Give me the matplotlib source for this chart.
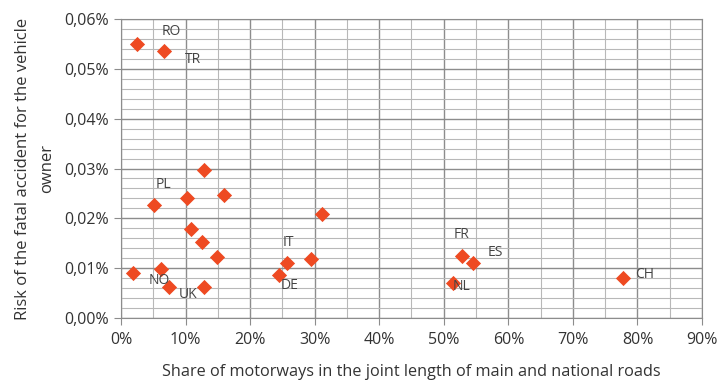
import matplotlib
matplotlib.use("Agg")
import matplotlib.pyplot as plt
from matplotlib.ticker import FuncFormatter, MultipleLocator

# share of motorways (fraction) and risk of fatal accident (fraction)
share = [0.0246, 0.066, 0.051, 0.103, 0.128, 0.160, 0.109, 0.125, 0.148, 0.018,
         0.062, 0.074, 0.128, 0.312, 0.257, 0.245, 0.295, 0.529, 0.545, 0.515, 0.778]
risk = [0.000550, 0.000536, 0.000226, 0.000240, 0.000297, 0.000247, 0.000178,
        0.000153, 0.000123, 0.000090, 0.000098, 0.000063, 0.000062, 0.000209,
        0.000110, 0.000086, 0.000118, 0.000125, 0.000111, 0.000071, 0.000080]
labels = ["RO", "TR", "PL", "", "", "", "", "", "", "", "NO", "", "UK", "",
          "IT", "DE", "", "FR", "ES", "NL", "CH"]
# label offsets in pixels (x right, y up)
offsets = {"RO": (34, 13), "TR": (29, -8), "PL": (10, 21), "NO": (-2, -11),
           "UK": (-16, -7), "IT": (1, 21), "DE": (10, -10), "FR": (-1, 21),
           "ES": (23, 10), "NL": (8, -4), "CH": (21, 4)}

plt.rcParams['font.family'] = ['Open Sans', 'DejaVu Sans']
fig = plt.figure(figsize=(7.2, 3.83), dpi=100)
ax = fig.add_axes([0.168, 0.170, 0.807, 0.780])

ax.scatter(share, risk, marker='D', s=60, color='#EE4A22', zorder=3, linewidths=0)
for x, y, lab in zip(share, risk, labels):
    if lab:
        ax.annotate(lab, (x, y), xytext=offsets[lab], textcoords='offset pixels',
                    ha='center', va='center', fontsize=10, color='#444444')

ax.set_xlim(0, 0.9)
ax.set_ylim(0, 0.0006)
ax.xaxis.set_major_locator(MultipleLocator(0.1))
ax.xaxis.set_minor_locator(MultipleLocator(0.05))
ax.yaxis.set_major_locator(MultipleLocator(0.0001))
ax.yaxis.set_minor_locator(MultipleLocator(0.00002))
ax.xaxis.set_major_formatter(FuncFormatter(lambda v, p: f"{v*100:.0f}%"))
ax.yaxis.set_major_formatter(FuncFormatter(lambda v, p: f"{v*100:.2f}%".replace('.', ',')))

ax.grid(True, which='major', color='#8c8c8c', linewidth=1.0)
ax.grid(True, which='minor', color='#b8b8b8', linewidth=0.8)
ax.set_axisbelow(True)
for s in ax.spines.values():
    s.set_color('#8c8c8c')
ax.tick_params(which='major', length=5, color='#8c8c8c', labelsize=11.5, labelcolor='#333333')
ax.tick_params(which='minor', length=0)
ax.tick_params(axis='x', pad=5)
ax.tick_params(axis='y', pad=4)

ax.set_xlabel('Share of motorways in the joint length of main and national roads',
              fontsize=11.7, color='#333333', labelpad=12)
ax.set_ylabel('Risk of the fatal accident for the vehicle\nowner',
              fontsize=12, color='#333333', labelpad=6, linespacing=1.7)

fig.savefig('out.png', dpi=100)
